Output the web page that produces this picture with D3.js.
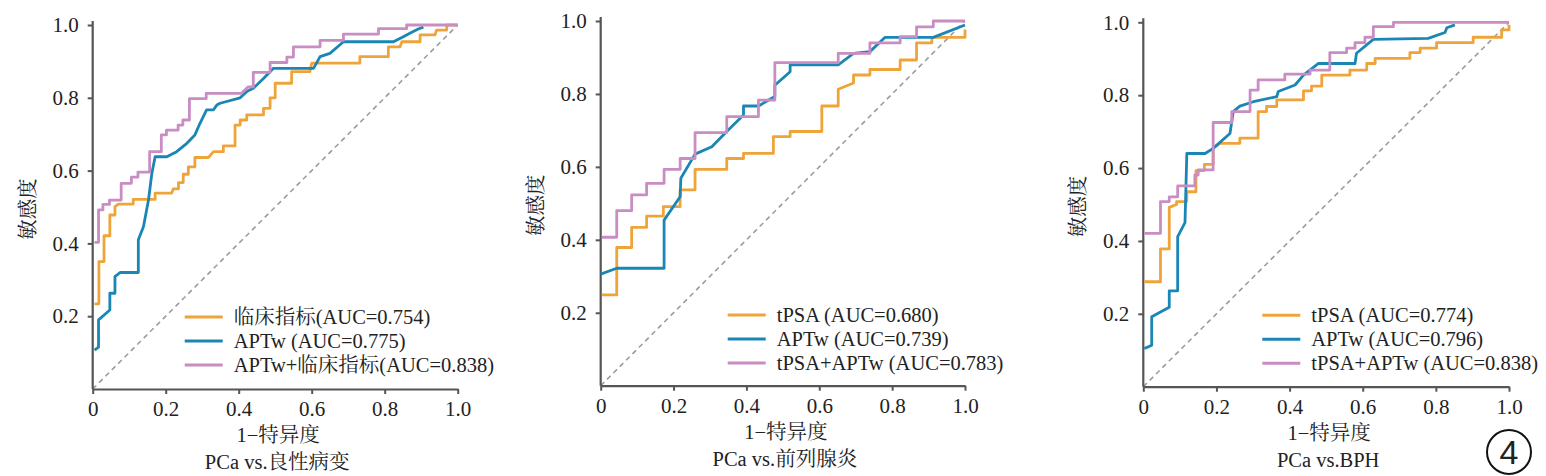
<!DOCTYPE html>
<html>
<head>
<meta charset="utf-8">
<script src="https://cdn.jsdelivr.net/npm/d3@7"></script>
<style>
  body { margin: 0; background: #fff; }
  svg text { font-family: "Times New Roman", "Liberation Serif", "DejaVu Serif", "Noto Serif CJK SC", "Noto Sans CJK SC", serif; fill: #222; }
</style>
</head>
<body>
<svg id="chart" width="1546" height="476"></svg>
<script>
// tick values
const xTicks = [0, 0.2, 0.4, 0.6, 0.8, 1.0];
const yTicks = [0.2, 0.4, 0.6, 0.8, 1.0];

// panel 1 : PCa vs. 良性病变
const p1Clinical = [[0.005,0.234],[0.017,0.234],[0.017,0.350],[0.031,0.350],[0.031,0.421],[0.047,0.421],[0.047,0.478],[0.061,0.478],[0.061,0.501],[0.070,0.508],[0.111,0.508],[0.111,0.521],[0.171,0.521],[0.171,0.538],[0.216,0.538],[0.221,0.55],[0.235,0.55],[0.235,0.567],[0.248,0.567],[0.248,0.59],[0.262,0.59],[0.262,0.61],[0.280,0.61],[0.280,0.636],[0.317,0.636],[0.331,0.652],[0.358,0.652],[0.358,0.668],[0.390,0.668],[0.390,0.725],[0.404,0.725],[0.404,0.739],[0.422,0.739],[0.422,0.753],[0.468,0.753],[0.468,0.771],[0.486,0.771],[0.486,0.80],[0.500,0.80],[0.500,0.84],[0.545,0.84],[0.545,0.872],[0.595,0.872],[0.600,0.895],[0.732,0.895],[0.732,0.913],[0.810,0.913],[0.810,0.94],[0.842,0.94],[0.847,0.954],[0.897,0.954],[0.897,0.973],[0.938,0.973],[0.942,0.986],[0.970,0.986],[0.970,1.0],[1.0,1.0]];
const p1APTw = [[0.005,0.107],[0.016,0.115],[0.016,0.19],[0.047,0.217],[0.047,0.263],[0.061,0.263],[0.061,0.309],[0.075,0.32],[0.125,0.32],[0.125,0.41],[0.139,0.446],[0.153,0.52],[0.162,0.592],[0.171,0.638],[0.203,0.638],[0.230,0.652],[0.258,0.675],[0.280,0.698],[0.294,0.73],[0.312,0.767],[0.331,0.767],[0.340,0.78],[0.349,0.785],[0.404,0.80],[0.422,0.817],[0.440,0.826],[0.468,0.853],[0.495,0.881],[0.605,0.881],[0.623,0.913],[0.650,0.922],[0.687,0.954],[0.824,0.954],[0.851,0.968],[0.878,0.982],[0.892,0.989],[0.906,0.994]];
const p1Combined = [[0.005,0.403],[0.016,0.403],[0.016,0.492],[0.028,0.492],[0.028,0.507],[0.046,0.507],[0.046,0.519],[0.078,0.519],[0.078,0.565],[0.106,0.565],[0.106,0.582],[0.124,0.582],[0.124,0.596],[0.156,0.596],[0.156,0.652],[0.188,0.652],[0.188,0.698],[0.202,0.698],[0.202,0.711],[0.234,0.711],[0.234,0.725],[0.247,0.725],[0.247,0.739],[0.265,0.739],[0.265,0.798],[0.311,0.798],[0.311,0.812],[0.407,0.812],[0.426,0.83],[0.440,0.83],[0.440,0.87],[0.486,0.87],[0.486,0.897],[0.532,0.897],[0.532,0.912],[0.550,0.912],[0.550,0.94],[0.623,0.94],[0.623,0.958],[0.687,0.958],[0.687,0.975],[0.783,0.975],[0.783,0.99],[0.860,0.99],[0.860,1.0],[1.0,1.0]];

// panel 2 : PCa vs. 前列腺炎
const p2tPSA = [[0.003,0.249],[0.044,0.249],[0.044,0.379],[0.085,0.379],[0.085,0.434],[0.126,0.434],[0.126,0.465],[0.172,0.465],[0.172,0.491],[0.218,0.491],[0.218,0.537],[0.259,0.537],[0.259,0.593],[0.346,0.593],[0.346,0.623],[0.392,0.623],[0.392,0.637],[0.474,0.637],[0.474,0.683],[0.520,0.683],[0.520,0.697],[0.607,0.697],[0.607,0.767],[0.652,0.767],[0.652,0.813],[0.694,0.83],[0.694,0.852],[0.739,0.852],[0.739,0.867],[0.822,0.867],[0.822,0.893],[0.867,0.893],[0.867,0.94],[0.909,0.94],[0.909,0.955],[1.0,0.955],[1.0,0.977]];
const p2APTw = [[0,0.306],[0.044,0.322],[0.174,0.322],[0.174,0.454],[0.218,0.518],[0.220,0.569],[0.259,0.635],[0.305,0.655],[0.346,0.697],[0.392,0.742],[0.392,0.767],[0.433,0.767],[0.478,0.793],[0.478,0.824],[0.520,0.861],[0.520,0.88],[0.652,0.88],[0.694,0.911],[0.739,0.916],[0.780,0.955],[0.913,0.955],[1.0,0.989]];
const p2Combined = [[0.003,0.407],[0.044,0.407],[0.044,0.48],[0.085,0.48],[0.085,0.523],[0.126,0.523],[0.126,0.555],[0.174,0.555],[0.174,0.593],[0.218,0.593],[0.218,0.623],[0.259,0.623],[0.259,0.694],[0.346,0.694],[0.346,0.738],[0.433,0.738],[0.433,0.783],[0.478,0.783],[0.478,0.886],[0.652,0.886],[0.652,0.911],[0.739,0.911],[0.739,0.94],[0.822,0.94],[0.822,0.957],[0.867,0.957],[0.867,0.984],[0.913,0.984],[0.913,1.0],[1.0,1.0]];

// panel 3 : PCa vs. BPH
const p3tPSA = [[0.003,0.288],[0.047,0.288],[0.047,0.378],[0.071,0.378],[0.071,0.492],[0.091,0.5],[0.091,0.508],[0.119,0.508],[0.119,0.535],[0.144,0.535],[0.144,0.593],[0.167,0.593],[0.167,0.61],[0.191,0.61],[0.191,0.655],[0.210,0.668],[0.264,0.668],[0.264,0.682],[0.314,0.682],[0.314,0.755],[0.337,0.755],[0.337,0.769],[0.365,0.769],[0.365,0.787],[0.438,0.787],[0.438,0.812],[0.460,0.812],[0.460,0.825],[0.488,0.825],[0.488,0.855],[0.565,0.855],[0.565,0.869],[0.611,0.869],[0.611,0.887],[0.634,0.887],[0.634,0.901],[0.729,0.901],[0.729,0.917],[0.757,0.917],[0.757,0.929],[0.802,0.929],[0.802,0.944],[0.902,0.944],[0.902,0.959],[0.980,0.959],[0.980,0.979],[1.0,0.979],[1.0,0.993]];
const p3APTw = [[0.003,0.105],[0.023,0.114],[0.023,0.192],[0.071,0.218],[0.071,0.263],[0.094,0.263],[0.094,0.412],[0.114,0.45],[0.119,0.64],[0.169,0.64],[0.191,0.654],[0.237,0.695],[0.246,0.755],[0.264,0.77],[0.301,0.782],[0.365,0.796],[0.369,0.81],[0.415,0.828],[0.438,0.855],[0.479,0.887],[0.579,0.887],[0.583,0.915],[0.629,0.953],[0.779,0.956],[0.825,0.972],[0.830,0.985],[0.852,0.993]];
const p3Combined = [[0.003,0.421],[0.047,0.421],[0.047,0.508],[0.071,0.508],[0.071,0.521],[0.094,0.521],[0.094,0.551],[0.141,0.551],[0.141,0.581],[0.150,0.581],[0.150,0.595],[0.191,0.595],[0.191,0.725],[0.242,0.725],[0.242,0.755],[0.292,0.755],[0.292,0.814],[0.314,0.814],[0.314,0.842],[0.387,0.842],[0.387,0.858],[0.456,0.858],[0.456,0.869],[0.510,0.869],[0.510,0.917],[0.556,0.917],[0.556,0.929],[0.579,0.929],[0.579,0.944],[0.606,0.944],[0.606,0.959],[0.629,0.959],[0.629,0.988],[0.684,0.988],[0.684,1.0],[1.0,1.0]];

const p1Labels = ["临床指标(AUC=0.754)", "APTw (AUC=0.775)", "APTw+临床指标(AUC=0.838)"];
const p2Labels = ["tPSA (AUC=0.680)", "APTw (AUC=0.739)", "tPSA+APTw (AUC=0.783)"];
const p3Labels = ["tPSA (AUC=0.774)", "APTw (AUC=0.796)", "tPSA+APTw (AUC=0.838)"];
const subtitles = ["PCa vs.良性病变", "PCa vs.前列腺炎", "PCa vs.BPH"];

const colors = ["#EFA43A", "#1A86B5", "#C98DC4"];

const panels = [
    { left: 92.7, top: 25, w: 365, h: 364, series: [p1Clinical, p1APTw, p1Combined], labels: p1Labels, sub: subtitles[0], legX: 92, legY: 292 },
    { left: 600.7, top: 21, w: 364.3, h: 364.7, series: [p2tPSA, p2APTw, p2Combined], labels: p2Labels, sub: subtitles[1], legX: 127, legY: 294 },
    { left: 1143.3, top: 22.3, w: 365.7, h: 364.4, series: [p3tPSA, p3APTw, p3Combined], labels: p3Labels, sub: subtitles[2], legX: 119, legY: 293 }
];

const serifFont = "'Times New Roman', 'Liberation Serif', 'DejaVu Serif', serif";

const svg = d3.select("#chart");

const fmt = d => d === 0 ? "0" : d3.format(".1f")(d);

panels.forEach(function(p) {
    const g = svg.append("g").attr("transform", "translate(" + p.left + "," + p.top + ")");

    const x = d3.scaleLinear().domain([0, 1]).range([0, p.w]);
    const y = d3.scaleLinear().domain([0, 1]).range([p.h, 0]);

    // diagonal reference
    g.append("line")
        .attr("x1", x(0)).attr("y1", y(0))
        .attr("x2", x(1)).attr("y2", y(1))
        .attr("stroke", "#9c9c9c")
        .attr("stroke-width", 1.6)
        .attr("stroke-dasharray", "5,4");

    const xAxis = g.append("g")
        .attr("transform", "translate(0," + p.h + ")")
        .call(d3.axisBottom(x).tickValues(xTicks).tickFormat(fmt).tickSize(5).tickSizeOuter(0).tickPadding(7));

    const yAxis = g.append("g")
        .call(d3.axisLeft(y).tickValues(yTicks).tickFormat(fmt).tickSize(5).tickSizeOuter(0).tickPadding(9));

    [xAxis, yAxis].forEach(function(a) {
        a.attr("font-family", null).attr("font-size", null);
        a.select(".domain").attr("stroke", "#555").attr("stroke-width", 2.2);
        a.selectAll(".tick line").attr("stroke", "#555").attr("stroke-width", 2);
        a.selectAll(".tick text")
            .style("font-family", serifFont)
            .style("font-size", "21px")
            .attr("fill", "#222");
    });
    // y axis reaches a little above 1.0
    yAxis.select(".domain").attr("d", "M0," + p.h + "V-4");

    const line = d3.line()
        .x(d => x(d[0]))
        .y(d => y(d[1]));

    p.series.forEach(function(s, i) {
        g.append("path")
            .datum(s)
            .attr("fill", "none")
            .attr("stroke", colors[i])
            .attr("stroke-width", 2.8)
            .attr("stroke-linejoin", "round")
            .attr("d", line);
    });

    // legend
    const leg = g.append("g").attr("transform", "translate(" + p.legX + "," + p.legY + ")");
    p.labels.forEach(function(t, i) {
        leg.append("line")
            .attr("x1", 0).attr("x2", 38)
            .attr("y1", i * 24).attr("y2", i * 24)
            .attr("stroke", colors[i])
            .attr("stroke-width", 3);
        leg.append("text")
            .attr("x", 49)
            .attr("y", i * 24)
            .attr("dy", "0.35em")
            .style("font-size", "20.5px")
            .text(t);
    });

    // axis titles
    g.append("text")
        .attr("x", p.w / 2 + 3)
        .attr("y", p.h + 53)
        .attr("text-anchor", "middle")
        .style("font-size", "20.5px")
        .text("1−特异度");

    g.append("text")
        .attr("x", p.w / 2 + 2)
        .attr("y", p.h + 80)
        .attr("text-anchor", "middle")
        .style("font-size", "20.5px")
        .text(p.sub);

    g.append("text")
        .attr("transform", "translate(-65," + (p.h / 2 + 2) + ") rotate(-90)")
        .attr("text-anchor", "middle")
        .attr("dy", "0.35em")
        .style("font-size", "20.5px")
        .text("敏感度");
});

// figure number
svg.append("circle")
    .attr("cx", 1509).attr("cy", 452).attr("r", 22)
    .attr("fill", "none")
    .attr("stroke", "#111")
    .attr("stroke-width", 2);
svg.append("text")
    .attr("x", 1509).attr("y", 452)
    .attr("dy", "0.36em")
    .attr("text-anchor", "middle")
    .style("font-family", "'Liberation Sans', 'DejaVu Sans', sans-serif")
    .style("font-size", "34px")
    .text("4");
</script>
</body>
</html>
